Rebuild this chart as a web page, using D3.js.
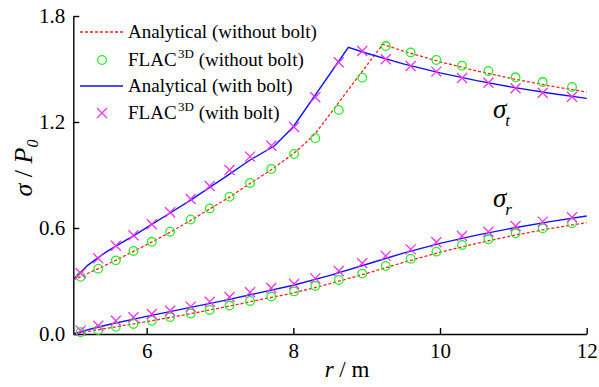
<!DOCTYPE html>
<html><head><meta charset="utf-8">
<script src="https://cdn.jsdelivr.net/npm/d3@7"></script>
<style>body{margin:0;background:#fff}svg{display:block}text{font-family:"Liberation Serif","Times New Roman",serif}</style>
</head><body><svg id="c" width="599" height="387"></svg>
<script>
// FLAC3D sample radii (m)
const flacR = [5.1, 5.34, 5.58, 5.82, 6.07, 6.32, 6.6, 6.86, 7.13, 7.41, 7.7, 8.01, 8.3, 8.62, 8.94, 9.26, 9.6, 9.95, 10.3, 10.66, 11.03, 11.4, 11.8];
// FLAC3D without bolt
const flacT0 = [0.324,0.370,0.417,0.470,0.522,0.579,0.648,0.711,0.777,0.855,0.934,1.019,1.108,1.268,1.451,1.630,1.594,1.551,1.519,1.489,1.453,1.426,1.398];
const flacR0 = [0.010,0.023,0.041,0.057,0.075,0.096,0.116,0.136,0.161,0.187,0.212,0.241,0.272,0.306,0.342,0.385,0.426,0.466,0.504,0.536,0.570,0.598,0.627];
// FLAC3D with bolt
const flacT1 = [0.344,0.428,0.500,0.559,0.621,0.689,0.764,0.838,0.928,1.004,1.066,1.172,1.340,1.538,1.602,1.555,1.517,1.485,1.449,1.422,1.391,1.366,1.343];
const flacR1 = [0.019,0.047,0.075,0.095,0.113,0.132,0.155,0.183,0.209,0.236,0.260,0.283,0.315,0.357,0.400,0.442,0.479,0.519,0.555,0.579,0.611,0.636,0.661];

// Analytical, without bolt: tangential stress
const anT0r = [5.0, 5.34, 5.58, 5.82, 6.07, 6.32, 6.6, 6.86, 7.13, 7.41, 7.7, 8.0, 8.15, 8.3, 8.6, 8.9, 9.22, 9.5, 10, 10.5, 11, 11.5, 12];
const anT0v = [0.306, 0.37, 0.417, 0.468, 0.52, 0.576, 0.643, 0.708, 0.775, 0.852, 0.93, 1.02, 1.075, 1.135, 1.3, 1.465, 1.64, 1.601, 1.541, 1.489, 1.444, 1.404, 1.37];
// Analytical, with bolt: tangential stress
const anT1r = [5.0, 5.1, 5.2, 5.34, 5.45, 5.58, 5.82, 6.07, 6.32, 6.6, 6.86, 7.13, 7.41, 7.74, 8.0, 8.75, 9.0, 9.5, 10, 10.5, 11, 11.5, 12];
const anT1v = [0.31, 0.35, 0.39, 0.432, 0.465, 0.497, 0.556, 0.62, 0.685, 0.758, 0.83, 0.905, 0.985, 1.064, 1.173, 1.623, 1.589, 1.529, 1.478, 1.434, 1.396, 1.363, 1.334];
// Analytical radial stress
const anRr  = [5.0, 5.25, 5.5, 6.0, 6.5, 7.0, 7.5, 8.0, 8.5, 9.0, 9.5, 10, 10.5, 11, 11.5, 12];
const anR0v = [0.0, 0.018, 0.035, 0.07, 0.107, 0.147, 0.19, 0.232, 0.285, 0.343, 0.405, 0.463, 0.513, 0.558, 0.597, 0.63];
const anR1v = [0.0, 0.03, 0.055, 0.1, 0.142, 0.185, 0.23, 0.276, 0.332, 0.395, 0.458, 0.513, 0.56, 0.6, 0.636, 0.668];

const xTicks = [6, 8, 10, 12];
const yTicks = [0, 0.6, 1.2, 1.8];
const legendLabels = ["Analytical (without bolt)", "FLAC|3D| (without bolt)", "Analytical (with bolt)", "FLAC|3D| (with bolt)"];

const RED = "#ff2020", GREEN = "#22ee22", BLUE = "#1010ff", MAG = "#ee33ee";
const FONT = "Liberation Serif, Times New Roman, serif";

const svg = d3.select("#c");
const x = d3.scaleLinear().domain([5, 12]).range([73.3, 586.7]);
const y = d3.scaleLinear().domain([0, 1.8]).range([334, 16]);

// axes
const gx = svg.append("g").attr("transform", "translate(0,334)")
  .call(d3.axisBottom(x).tickValues(xTicks).tickSize(-6).tickSizeOuter(0).tickPadding(9).tickFormat(d3.format("d")));
const gy = svg.append("g").attr("transform", "translate(73.3,0)")
  .call(d3.axisLeft(y).tickValues(yTicks).tickSize(-6).tickSizeOuter(0).tickPadding(8).tickFormat(d3.format(".1f")));
[gx, gy].forEach(g => {
  g.attr("font-family", FONT).attr("font-size", 21);
  g.selectAll("path,line").attr("stroke", "#000").attr("stroke-width", 1.4);
  g.selectAll("text").attr("fill", "#000");
});

// lines
const line = (rs, vs) => d3.line().x((d, i) => x(rs[i])).y((d, i) => y(vs[i]))(vs);
svg.append("path").attr("d", line(anT0r, anT0v)).attr("fill", "none").attr("stroke", RED).attr("stroke-width", 1.3).attr("stroke-dasharray", "3,2");
svg.append("path").attr("d", line(anRr, anR0v)).attr("fill", "none").attr("stroke", RED).attr("stroke-width", 1.3).attr("stroke-dasharray", "3,2");
svg.append("path").attr("d", line(anT1r, anT1v)).attr("fill", "none").attr("stroke", BLUE).attr("stroke-width", 1.4);
svg.append("path").attr("d", line(anRr, anR1v)).attr("fill", "none").attr("stroke", BLUE).attr("stroke-width", 1.4);

// markers
function circles(vs) {
  svg.append("g").selectAll("circle").data(vs).join("circle")
    .attr("cx", (d, i) => x(flacR[i])).attr("cy", d => y(d)).attr("r", 4.3)
    .attr("fill", "none").attr("stroke", GREEN).attr("stroke-width", 1.3);
}
const crossPath = s => `M${-s},${-s}L${s},${s}M${-s},${s}L${s},${-s}`;
function crosses(vs) {
  svg.append("g").selectAll("path").data(vs).join("path")
    .attr("transform", (d, i) => `translate(${x(flacR[i])},${y(d)})`)
    .attr("d", crossPath(5)).attr("fill", "none").attr("stroke", MAG).attr("stroke-width", 1.3);
}
circles(flacT0); circles(flacR0);
crosses(flacT1); crosses(flacR1);

// legend
const lg = svg.append("g").attr("font-family", FONT);
const rowsY = [32, 60, 86, 113];
lg.append("line").attr("x1", 80).attr("x2", 123).attr("y1", rowsY[0]).attr("y2", rowsY[0]).attr("stroke", RED).attr("stroke-width", 1.3).attr("stroke-dasharray", "3,2");
lg.append("circle").attr("cx", 102).attr("cy", rowsY[1]).attr("r", 4.3).attr("fill", "none").attr("stroke", GREEN).attr("stroke-width", 1.3);
lg.append("line").attr("x1", 80).attr("x2", 123).attr("y1", rowsY[2]).attr("y2", rowsY[2]).attr("stroke", BLUE).attr("stroke-width", 1.4);
lg.append("path").attr("transform", `translate(102,${rowsY[3]})`).attr("d", crossPath(5)).attr("stroke", MAG).attr("stroke-width", 1.3);
legendLabels.forEach((lab, i) => {
  const t = lg.append("text").attr("x", 128).attr("y", rowsY[i] + 5.5).attr("font-size", 19).attr("fill", "#000");
  const parts = lab.split("|");
  if (parts.length === 1) { t.text(lab); }
  else {
    t.append("tspan").text(parts[0]);
    t.append("tspan").attr("font-size", 13).attr("dy", -8).attr("dx", 1.5).text(parts[1]);
    t.append("tspan").attr("dy", 8).text(parts[2]);
  }
});

// annotations
function sigma(xp, yp, sub) {
  const t = svg.append("text").attr("x", xp).attr("y", yp).attr("font-family", FONT).attr("font-size", 27).attr("font-style", "italic").attr("fill", "#000");
  t.append("tspan").text("σ");
  t.append("tspan").attr("font-size", 17).attr("dy", 8).attr("dx", -1).text(sub);
}
sigma(493, 118, "t");
sigma(493, 207, "r");

// axis titles
const xl = svg.append("text").attr("x", 347).attr("y", 377).attr("text-anchor", "middle").attr("font-family", FONT).attr("font-size", 23).attr("fill", "#000");
xl.append("tspan").attr("font-style", "italic").text("r");
xl.append("tspan").text(" / m");
const yl = svg.append("text").attr("transform", "translate(32,168) rotate(-90)").attr("text-anchor", "middle").attr("font-family", FONT).attr("font-size", 26).attr("fill", "#000");
yl.append("tspan").attr("font-style", "italic").text("σ");
yl.append("tspan").text(" / ");
yl.append("tspan").attr("font-style", "italic").text("P");
yl.append("tspan").attr("font-style", "italic").attr("font-size", 16).attr("dy", 6).text("0");
</script></body></html>
